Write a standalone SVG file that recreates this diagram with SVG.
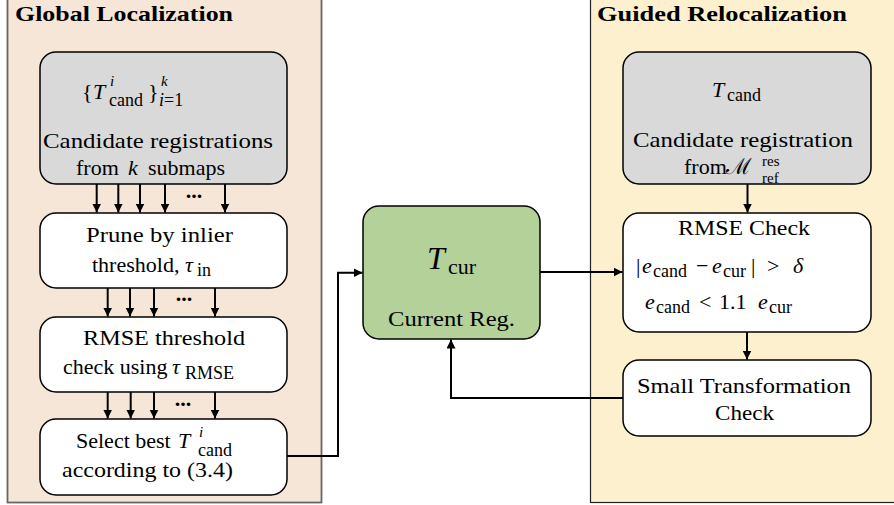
<svg xmlns="http://www.w3.org/2000/svg" width="894" height="505" viewBox="0 0 894 505">
<defs>
<style>
.t{font-size:22px;fill:#000}
.i{font-style:italic}
.s{font-size:18px}
.ss{font-size:15px}
.h{font-weight:bold;font-size:21px}
.dots{font-weight:bold;font-size:22px;text-anchor:middle}
.gray{fill:#d9d9d9;stroke:#000;stroke-width:1.5}
.white{fill:#fff;stroke:#000;stroke-width:1.5}
.green{fill:#b3d199;stroke:#000;stroke-width:1.5}
.c{stroke:#000;stroke-width:2;fill:none}
</style>
<marker id="ah" viewBox="0 0 10 10" refX="10" refY="5" markerWidth="9" markerHeight="9" markerUnits="userSpaceOnUse" orient="auto"><path d="M0,0 L10,5 L0,10 z" fill="#000"/></marker>
</defs>
<rect width="894" height="505" fill="#fff"/>
<g id="panel-global">
<rect x="7.5" y="-5" width="314" height="507.5" fill="#f6e6d7" stroke="#666" stroke-width="1.8"/>
<text class="t h" font-family="Liberation Serif" x="15" y="21" textLength="218" lengthAdjust="spacingAndGlyphs">Global Localization</text>
</g>
<g id="panel-guided">
<rect x="590.5" y="-5" width="310" height="507.5" fill="#fcf0cf" stroke="#222" stroke-width="1.2"/>
<text class="t h" font-family="Liberation Serif" x="597" y="21" textLength="250" lengthAdjust="spacingAndGlyphs">Guided Relocalization</text>
</g>
<g id="candidates">
<rect class="gray" x="40" y="52" width="247" height="132" rx="16"/>
<text class="t" font-family="Liberation Serif" y="99"><tspan x="82">{</tspan><tspan x="93" class="i">T</tspan><tspan x="110" y="86" class="i ss">i</tspan><tspan x="109" y="106" class="s">cand</tspan><tspan x="148" y="99">}</tspan><tspan x="161" y="86" class="i ss">k</tspan><tspan x="159" y="106" class="i s">i</tspan><tspan class="s">=1</tspan></text>
<text class="t" font-family="Liberation Serif" x="43" y="147.5" textLength="230" lengthAdjust="spacingAndGlyphs">Candidate registrations</text>
<text class="t" font-family="Liberation Serif" y="175"><tspan x="76">from</tspan><tspan x="128" class="i">k</tspan><tspan x="148">submaps</tspan></text>
</g>
<g id="prune">
<rect class="white" x="40" y="213" width="247" height="75" rx="16"/>
<text class="t" font-family="Liberation Serif" x="86" y="241.7" textLength="147" lengthAdjust="spacingAndGlyphs">Prune by inlier</text>
<text class="t" font-family="Liberation Serif" y="271.7"><tspan x="92">threshold,</tspan><tspan x="185" class="i">τ</tspan><tspan x="197" y="275.5" class="s">in</tspan></text>
</g>
<g id="rmse-threshold">
<rect class="white" x="40" y="317" width="247" height="75" rx="16"/>
<text class="t" font-family="Liberation Serif" x="83" y="345" textLength="162" lengthAdjust="spacingAndGlyphs">RMSE threshold</text>
<text class="t" font-family="Liberation Serif" y="374"><tspan x="63">check using</tspan><tspan x="172" class="i">τ</tspan><tspan x="185" y="379" class="s">RMSE</tspan></text>
</g>
<g id="select">
<rect class="white" x="40" y="419" width="247" height="76" rx="16"/>
<text class="t" font-family="Liberation Serif" y="448"><tspan x="76">Select best</tspan><tspan x="178" class="i">T</tspan><tspan x="199" y="437" class="i ss">i</tspan><tspan x="198" y="456" class="s">cand</tspan></text>
<text class="t" font-family="Liberation Serif" x="62" y="477" textLength="171" lengthAdjust="spacingAndGlyphs">according to (3.4)</text>
</g>
<g id="current">
<rect class="green" x="363" y="206" width="177" height="133" rx="16"/>
<text class="t" font-family="Liberation Serif" y="269"><tspan x="427" class="i" style="font-size:32px">T</tspan><tspan x="448" y="274">cur</tspan></text>
<text class="t" font-family="Liberation Serif" x="388" y="326" textLength="127" lengthAdjust="spacingAndGlyphs">Current Reg.</text>
</g>
<g id="candidate-guided">
<rect class="gray" x="623" y="52" width="248" height="132" rx="16"/>
<text class="t" font-family="Liberation Serif" y="97"><tspan x="712" class="i">T</tspan><tspan x="727" y="101" class="s">cand</tspan></text>
<text class="t" font-family="Liberation Serif" x="633" y="147" textLength="220" lengthAdjust="spacingAndGlyphs">Candidate registration</text>
<text class="t" font-family="Liberation Serif" y="174"><tspan x="684">from</tspan><tspan x="726">ℳ</tspan><tspan x="762" y="166" class="ss">res</tspan><tspan x="762" y="182.5" class="ss">ref</tspan></text>
</g>
<g id="rmse-check">
<rect class="white" x="623" y="213" width="248" height="119" rx="16"/>
<text class="t" font-family="Liberation Serif" x="678" y="235" textLength="132" lengthAdjust="spacingAndGlyphs">RMSE Check</text>
<text class="t" font-family="Liberation Serif" y="273"><tspan x="636">|</tspan><tspan x="642" class="i">e</tspan><tspan x="653" y="277" class="s">cand</tspan><tspan x="696" y="273">−</tspan><tspan x="712" class="i">e</tspan><tspan x="723" y="277" class="s">cur</tspan><tspan x="751" y="273">|</tspan><tspan x="767">&gt;</tspan><tspan x="793" class="i">δ</tspan></text>
<text class="t" font-family="Liberation Serif" y="309"><tspan x="645" class="i">e</tspan><tspan x="656" y="313" class="s">cand</tspan><tspan x="699" y="309">&lt;</tspan><tspan x="719">1.1</tspan><tspan x="758" class="i">e</tspan><tspan x="769" y="313" class="s">cur</tspan></text>
</g>
<g id="small-transformation">
<rect class="white" x="623" y="360" width="248" height="76" rx="16"/>
<text class="t" font-family="Liberation Serif" x="637" y="393" textLength="214" lengthAdjust="spacingAndGlyphs">Small Transformation</text>
<text class="t" font-family="Liberation Serif" x="715" y="420" textLength="59" lengthAdjust="spacingAndGlyphs">Check</text>
</g>
<g id="connectors">
<path class="c" marker-end="url(#ah)" d="M96.7,184 V212.5"/>
<path class="c" marker-end="url(#ah)" d="M118.3,184 V212.5"/>
<path class="c" marker-end="url(#ah)" d="M140,184 V212.5"/>
<path class="c" marker-end="url(#ah)" d="M165,184 V212.5"/>
<path class="c" marker-end="url(#ah)" d="M225,184 V212.5"/>
<text class="dots" font-family="Liberation Serif" x="194" y="198">...</text>
<path class="c" marker-end="url(#ah)" d="M107.7,288 V316.5"/>
<path class="c" marker-end="url(#ah)" d="M130,288 V316.5"/>
<path class="c" marker-end="url(#ah)" d="M154,288 V316.5"/>
<path class="c" marker-end="url(#ah)" d="M215,288 V316.5"/>
<text class="dots" font-family="Liberation Serif" x="184" y="301">...</text>
<path class="c" marker-end="url(#ah)" d="M107.7,392 V418.5"/>
<path class="c" marker-end="url(#ah)" d="M130.7,392 V418.5"/>
<path class="c" marker-end="url(#ah)" d="M154,392 V418.5"/>
<path class="c" marker-end="url(#ah)" d="M215,392 V418.5"/>
<text class="dots" font-family="Liberation Serif" x="183" y="406">...</text>
<path class="c" marker-end="url(#ah)" d="M287,456 H338 V272.7 H362.5"/>
<path class="c" marker-end="url(#ah)" d="M540,272 H622.5"/>
<path class="c" marker-end="url(#ah)" d="M623,398 H451 V339.5"/>
<path class="c" marker-end="url(#ah)" d="M747.5,184 V212.5"/>
<path class="c" marker-end="url(#ah)" d="M747,332 V359.5"/>
</g>
</svg>
